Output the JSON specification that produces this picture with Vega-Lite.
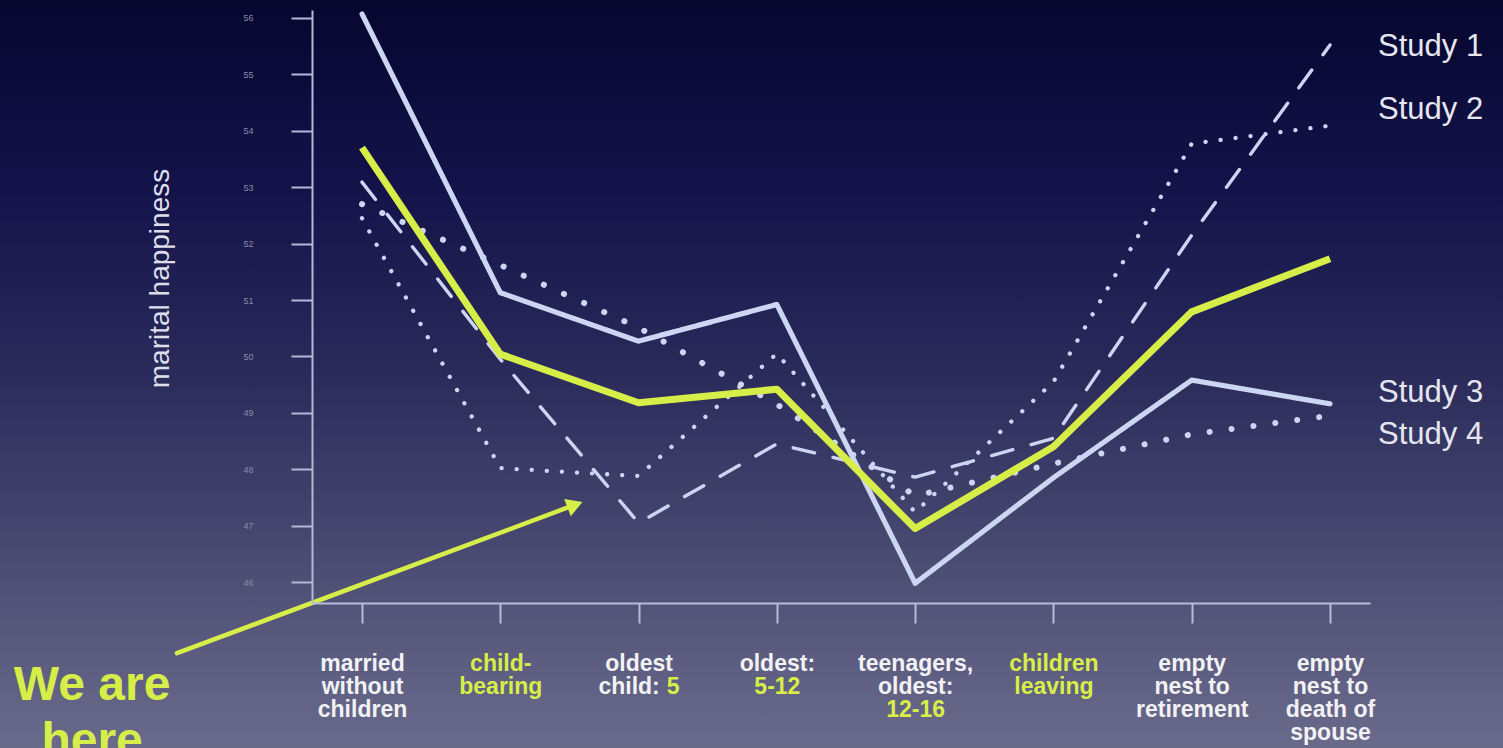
{
  "$schema": "https://vega.github.io/schema/vega-lite/v6.json",
  "width": 1503,
  "height": 748,
  "autosize": {"type": "none"},
  "padding": 0,
  "background": "#2a2b58",
  "datasets": {
    "studies": [
      {"stage": "married without children", "idx": 0, "series": "Study 1", "value": 53.09},
      {"stage": "child-bearing", "idx": 1, "series": "Study 1", "value": 49.95},
      {"stage": "oldest child: 5", "idx": 2, "series": "Study 1", "value": 47.05},
      {"stage": "oldest: 5-12", "idx": 3, "series": "Study 1", "value": 48.45},
      {"stage": "teenagers, oldest: 12-16", "idx": 4, "series": "Study 1", "value": 47.86},
      {"stage": "children leaving", "idx": 5, "series": "Study 1", "value": 48.55},
      {"stage": "empty nest to retirement", "idx": 6, "series": "Study 1", "value": 52.15},
      {"stage": "empty nest to death of spouse", "idx": 7, "series": "Study 1", "value": 55.52},
      {"stage": "married without children", "idx": 0, "series": "Study 2", "value": 52.45},
      {"stage": "child-bearing", "idx": 1, "series": "Study 2", "value": 48.02},
      {"stage": "oldest child: 5", "idx": 2, "series": "Study 2", "value": 47.88},
      {"stage": "oldest: 5-12", "idx": 3, "series": "Study 2", "value": 50.05},
      {"stage": "teenagers, oldest: 12-16", "idx": 4, "series": "Study 2", "value": 47.24},
      {"stage": "children leaving", "idx": 5, "series": "Study 2", "value": 49.55},
      {"stage": "empty nest to retirement", "idx": 6, "series": "Study 2", "value": 53.77},
      {"stage": "empty nest to death of spouse", "idx": 7, "series": "Study 2", "value": 54.09},
      {"stage": "married without children", "idx": 0, "series": "Study 3", "value": 56.07},
      {"stage": "child-bearing", "idx": 1, "series": "Study 3", "value": 51.13},
      {"stage": "oldest child: 5", "idx": 2, "series": "Study 3", "value": 50.27},
      {"stage": "oldest: 5-12", "idx": 3, "series": "Study 3", "value": 50.92},
      {"stage": "teenagers, oldest: 12-16", "idx": 4, "series": "Study 3", "value": 45.98},
      {"stage": "children leaving", "idx": 5, "series": "Study 3", "value": 47.85},
      {"stage": "empty nest to retirement", "idx": 6, "series": "Study 3", "value": 49.58},
      {"stage": "empty nest to death of spouse", "idx": 7, "series": "Study 3", "value": 49.16},
      {"stage": "married without children", "idx": 0, "series": "Study 4", "value": 52.7},
      {"stage": "child-bearing", "idx": 1, "series": "Study 4", "value": 51.62},
      {"stage": "oldest child: 5", "idx": 2, "series": "Study 4", "value": 50.51},
      {"stage": "oldest: 5-12", "idx": 3, "series": "Study 4", "value": 49.15},
      {"stage": "teenagers, oldest: 12-16", "idx": 4, "series": "Study 4", "value": 47.53},
      {"stage": "children leaving", "idx": 5, "series": "Study 4", "value": 48.1},
      {"stage": "empty nest to retirement", "idx": 6, "series": "Study 4", "value": 48.62},
      {"stage": "empty nest to death of spouse", "idx": 7, "series": "Study 4", "value": 48.95}
    ],
    "average": [
      {"stage": "married without children", "idx": 0, "value": 53.7},
      {"stage": "child-bearing", "idx": 1, "value": 50.04},
      {"stage": "oldest child: 5", "idx": 2, "value": 49.18},
      {"stage": "oldest: 5-12", "idx": 3, "value": 49.42},
      {"stage": "teenagers, oldest: 12-16", "idx": 4, "value": 46.95},
      {"stage": "children leaving", "idx": 5, "value": 48.4},
      {"stage": "empty nest to retirement", "idx": 6, "value": 50.79},
      {"stage": "empty nest to death of spouse", "idx": 7, "value": 51.73}
    ],
    "arrow": [
      {"idx": -1.338, "value": 44.74},
      {"idx": 1.518, "value": 47.35}
    ],
    "arrowhead": [
      {"idx": 1.54, "value": 47.37}
    ],
    "here": [
      {"note": "We are\nhere", "idx": -1.952, "value": 43.91}
    ],
    "studyLabels": [
      {"label": "Study 1", "idx": 7, "value": 55.48},
      {"label": "Study 2", "idx": 7, "value": 54.37},
      {"label": "Study 3", "idx": 7, "value": 49.35},
      {"label": "Study 4", "idx": 7, "value": 48.61}
    ]
  },
  "layer": [
    {
      "data": {"name": "studies"},
      "mark": {"type": "line", "color": "#ccd5f2", "strokeCap": "round", "strokeJoin": "round"},
      "encoding": {
        "x": {
          "field": "idx", "type": "quantitative",
          "scale": {"domain": [-0.3616, 7.2892], "range": [312, 1370], "nice": false, "zero": false},
          "axis": {
            "orient": "bottom", "offset": -145, "values": [0, 1, 2, 3, 4, 5, 6, 7], "grid": false,
            "domainColor": "#b8bcd8", "domainWidth": 2, "tickColor": "#b8bcd8", "tickWidth": 2, "tickSize": 20,
            "labels": false, "title": null, "zindex": 1
          }
        },
        "y": {
          "field": "value", "type": "quantitative",
          "scale": {"domain": [45.63, 56.14], "range": [603, 10], "nice": false, "zero": false},
          "axis": {
            "orient": "left", "offset": -312, "values": [46, 47, 48, 49, 50, 51, 52, 53, 54, 55, 56], "grid": false,
            "domainColor": "#b4b8d6", "domainWidth": 2, "tickColor": "#b4b8d6", "tickWidth": 2, "tickSize": 21,
            "labelFont": "Liberation Sans", "labelFontSize": 9, "labelColor": "#8a8ca8", "labelPadding": 38,
            "title": "marital happiness", "titleFont": "Liberation Sans", "titleFontSize": 28, "titleFontWeight": "normal",
            "titleColor": "#dedeea", "titleX": -152, "titleY": 278, "titleAngle": 270, "titleAlign": "center", "titleBaseline": "middle",
            "zindex": 1
          }
        },
        "detail": {"field": "series"},
        "strokeDash": {
          "field": "series", "type": "nominal",
          "scale": {"domain": ["Study 1", "Study 2", "Study 3", "Study 4"], "range": [[22, 19], [0.1, 15], [1, 0], [0.1, 22]]},
          "legend": null
        },
        "strokeWidth": {
          "field": "series", "type": "ordinal",
          "scale": {"domain": ["Study 1", "Study 2", "Study 3", "Study 4"], "range": [3.4, 6, 2.8, 6]},
          "legend": null
        }
      }
    },
    {
      "data": {"name": "average"},
      "mark": {"type": "line", "color": "#d8ee48", "strokeWidth": 7, "strokeJoin": "round", "strokeCap": "butt"},
      "encoding": {
        "x": {
          "field": "idx", "type": "quantitative",
          "scale": {"domain": [-0.3616, 7.2892], "range": [312, 1370], "nice": false, "zero": false},
          "axis": {
            "orient": "bottom", "offset": -145, "values": [1, 2, 3, 4, 5], "grid": false,
            "domain": false, "ticks": true, "tickOpacity": 0, "tickSize": 20,
            "labelExpr": "datum.value == 1 ? ['child-', 'bearing'] : datum.value == 2 ? '5' : datum.value == 3 ? '5-12' : datum.value == 4 ? '12-16' : ['children', 'leaving']",
            "labelPadding": {"condition": [{"test": "datum.value == 4", "value": 75}, {"test": "datum.value == 2 || datum.value == 3", "value": 52}], "value": 29},
            "labelOffset": {"condition": {"test": "datum.value == 2", "value": 34}, "value": 0},
            "labelColor": "#d8ee48", "labelFont": "Liberation Sans", "labelFontSize": 23, "labelFontWeight": "bold",
            "labelLineHeight": 23, "labelOverlap": false, "labelFlush": false, "labelBound": false,
            "title": null, "zindex": 1
          }
        },
        "y": {
          "field": "value", "type": "quantitative",
          "scale": {"domain": [45.63, 56.14], "range": [603, 10], "nice": false, "zero": false},
          "axis": null
        }
      }
    },
    {
      "data": {"name": "arrow"},
      "mark": {"type": "line", "color": "#d8ee48", "strokeWidth": 4.5, "strokeCap": "round"},
      "encoding": {
        "x": {
          "field": "idx", "type": "quantitative",
          "axis": {
            "orient": "bottom", "offset": -145, "values": [0, 2, 3, 4, 6, 7], "grid": false,
            "domain": false, "ticks": true, "tickOpacity": 0, "tickSize": 20,
            "labelExpr": "datum.value == 0 ? ['married', 'without', 'children'] : datum.value == 2 ? 'oldest' : datum.value == 3 ? 'oldest:' : datum.value == 4 ? ['teenagers,', 'oldest:'] : datum.value == 6 ? ['empty', 'nest to', 'retirement'] : ['empty', 'nest to', 'death of', 'spouse']",
            "labelPadding": 29,
            "labelColor": "#f2f2f5", "labelFont": "Liberation Sans", "labelFontSize": 23, "labelFontWeight": "bold",
            "labelLineHeight": 23, "labelOverlap": false, "labelFlush": false, "labelBound": false,
            "title": null, "zindex": 1
          }
        },
        "y": {"field": "value", "type": "quantitative", "axis": null}
      }
    },
    {
      "data": {"name": "arrowhead"},
      "mark": {"type": "point", "shape": "triangle-up", "filled": true, "size": 340, "angle": 69, "color": "#d8ee48", "opacity": 1},
      "encoding": {
        "x": {
          "field": "idx", "type": "quantitative",
          "axis": {
            "orient": "bottom", "offset": -145, "values": [2], "grid": false,
            "domain": false, "ticks": true, "tickOpacity": 0, "tickSize": 20,
            "labelExpr": "'child:'",
            "labelPadding": 52, "labelOffset": -10,
            "labelColor": "#f2f2f5", "labelFont": "Liberation Sans", "labelFontSize": 23, "labelFontWeight": "bold",
            "labelOverlap": false, "labelFlush": false, "labelBound": false,
            "title": null, "zindex": 1
          }
        },
        "y": {"field": "value", "type": "quantitative", "axis": null}
      }
    },
    {
      "data": {"name": "here"},
      "mark": {"type": "text", "font": "Liberation Sans", "fontSize": 48, "fontWeight": "bold", "color": "#d8ee48", "align": "center", "baseline": "alphabetic", "lineBreak": "\n", "lineHeight": 56},
      "encoding": {
        "x": {"field": "idx", "type": "quantitative", "axis": null},
        "y": {"field": "value", "type": "quantitative", "axis": null},
        "text": {"field": "note"}
      }
    },
    {
      "data": {"name": "studyLabels"},
      "mark": {"type": "text", "font": "Liberation Sans", "fontSize": 31, "color": "#e6e6ef", "align": "left", "baseline": "middle", "dx": 48},
      "encoding": {
        "x": {"field": "idx", "type": "quantitative", "axis": null},
        "y": {"field": "value", "type": "quantitative", "axis": null},
        "text": {"field": "label"}
      }
    }
  ],
  "resolve": {"axis": {"x": "independent", "y": "independent"}},
  "config": {
    "font": "Liberation Sans",
    "axis": {"grid": false},
    "view": {
      "stroke": null,
      "fill": {
        "gradient": "linear", "x1": 0, "y1": 0, "x2": 0, "y2": 1,
        "stops": [
          {"offset": 0, "color": "#06062f"},
          {"offset": 0.25, "color": "#13134a"},
          {"offset": 0.5, "color": "#2a2b5a"},
          {"offset": 0.75, "color": "#4b4c73"},
          {"offset": 1, "color": "#6a6b8b"}
        ]
      }
    }
  }
}
